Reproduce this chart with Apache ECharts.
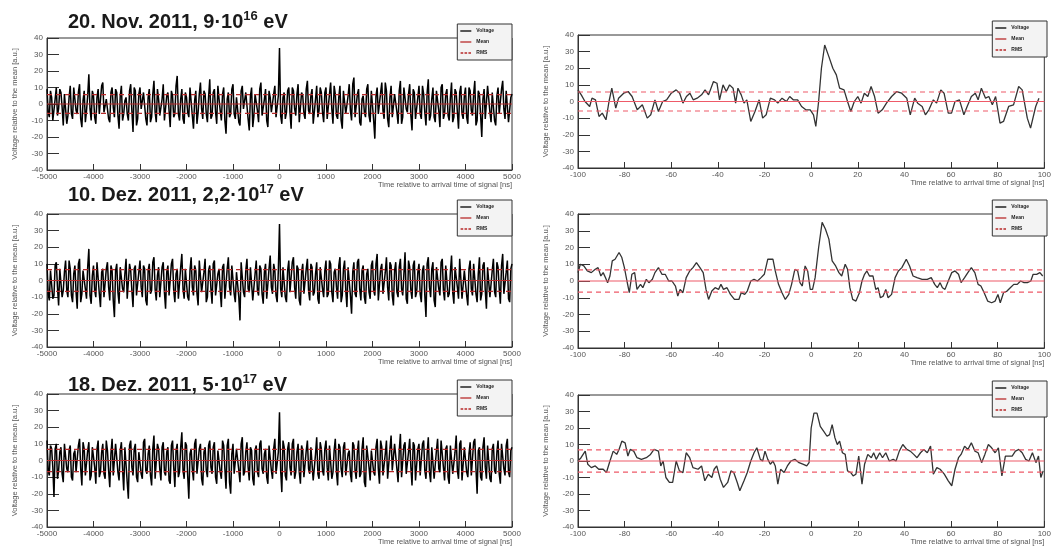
<!DOCTYPE html>
<html><head><meta charset="utf-8">
<script src="https://cdn.jsdelivr.net/npm/echarts@6/dist/echarts.min.js"></script>
<style>html,body{margin:0;padding:0;background:#fff}#c{width:1054px;height:546px}</style>
</head><body><div id="c"></div>
<script>
// ---------- DATA ----------
const titleMain = ['20. Nov. 2011, 9·10', '10. Dez. 2011, 2,2·10', '18. Dez. 2011, 5·10'];
const titleExp = ['16', '17', '17'];
const titleUnit = ' eV';
const legendNames = ['Voltage', 'Mean', 'RMS'];
const xAxisName = 'Time relative to arrival time of signal [ns]';
const yAxisName = 'Voltage relative to the mean [a.u.]';

const fullRange = [-5000, 5000];
const fullTick = 1000;
const zoomRange = [-100, 100];
const zoomTick = 20;
const voltRange = [-40, 40];
const voltTick = 10;

const meanLevels = [0, 0, 0];
const rmsLevels = [5.7, 6.6, 6.7];

// full traces: samples "A" every 50 ns from -5000 ns, samples "B" every 50 ns from -4975 ns
const fullStart = -5000;
const fullStep = 50;
const fullOffset = 25;
const fullNov = [
  9,-8,4,-11,10,-3,7,-13,6,-7,
  11,-9,3,-6,12,-14,8,-4,18,-10,
  5,-12,9,-7,13,-5,2,-11,10,-8,
  7,-15,11,-6,4,-10,12,-17,8,-9,
  10,-4,6,-13,9,-8,14,-11,3,-7,
  12,-9,7,-14,5,-6,17,-10,9,-12,
  4,-8,11,-15,8,-5,13,-9,6,-11,
  15,-7,9,-12,3,-10,10,-18,7,-6,
  12,-9,5,-13,11,-4,8,-16,10,-7,
  6,-11,13,-8,9,-14,4,-6,11,-9,
  34,
  -12,7,-5,10,-15,8,-7,12,-10,5,
  -9,14,-6,9,-13,11,-4,7,-11,10,
  -8,13,-12,6,-9,11,-15,8,-6,12,
  -10,16,-7,9,-13,5,-8,12,-11,7,
  -21,10,-6,13,-9,8,-14,11,-7,6,
  -12,14,-8,9,-5,12,-16,7,-10,11,
  -9,6,-13,15,-7,10,-11,8,-14,12,
  -6,9,-10,13,-8,7,-15,11,-9,10,
  -12,8,-7,14,-10,6,-20,9,-8,12,
  -11,7,-13,10,-6,14,-9,8,-12,6
];
const fullNovB = [
  -5,8,-10,3,-7,9,-2,6,-12,4,
  -6,10,-4,7,-9,2,-11,5,-3,8,
  -8,4,-6,11,-5,3,-9,7,-2,9,
  -7,5,-10,2,-6,8,-4,10,-13,6,
  -3,7,-9,4,-11,6,-5,9,-7,3,
  -10,5,-4,8,-8,11,-6,3,-9,7,
  -5,10,-7,2,-12,6,-3,8,-6,4,
  -9,7,-5,11,-4,6,-10,3,-8,9,
  -6,4,-11,8,-3,7,-9,5,-14,6,
  -4,9,-7,3,-10,8,-5,6,-8,5,
  -7,4,-9,8,-5,10,-3,6,-11,7,
  -6,9,-4,5,-12,3,-8,10,-5,7,
  -9,6,-3,11,-7,4,-10,8,-6,5,
  -4,12,-8,6,-11,3,-5,9,-7,8,
  -10,5,-6,7,-4,13,-9,4,-8,6,
  -5,8,-12,10,-3,6,-7,9,-9,4,
  -6,11,-5,7,-10,3,-8,8,-4,10,
  -9,6,-7,4,-11,9,-5,7,-6,5,
  -8,10,-4,6,-13,8,-7,3,-9,11,
  -5,7,-10,5,-6,9,-3,8,-11,4
];
const fullDez10 = [
  10,-12,6,-9,11,-15,8,-6,12,-10,
  7,-13,9,-17,13,-8,5,-11,19,-14,
  9,-10,12,-16,7,-9,11,-12,6,-22,
  10,-14,8,-7,13,-11,6,-16,9,-8,
  12,-10,7,-15,10,-6,14,-12,8,-9,
  11,-17,9,-8,13,-13,7,-10,16,-11,
  8,-12,14,-9,6,-15,11,-7,13,-10,
  9,-14,12,-8,7,-16,10,-11,14,-9,
  8,-13,6,-24,11,-10,13,-7,9,-12,
  12,-9,7,-14,10,-11,15,-8,6,-13,
  34,
  -10,9,-13,12,-8,14,-11,7,-15,10,
  -9,13,-12,8,-7,11,-14,9,-10,12,
  -8,10,-13,7,-11,14,-9,12,-16,8,
  -20,11,-10,13,-12,9,-14,7,-11,12,
  -9,16,-13,10,-8,14,-12,9,-15,11,
  -10,13,-9,17,-14,8,-11,12,-7,10,
  -13,9,-22,14,-10,11,-16,8,-9,13,
  -12,10,-8,15,-14,9,-11,12,-10,7,
  -15,12,-9,10,-13,14,-8,11,-17,9,
  -11,13,-10,8,-14,16,-9,12,-13,10
];
const fullDez10B = [
  -8,6,-11,9,-4,7,-10,5,-6,12,
  -9,4,-7,10,-13,6,-5,8,-9,3,
  -6,11,-8,5,-10,7,-4,9,-12,6,
  -7,8,-5,4,-11,10,-6,7,-9,5,
  -4,9,-12,6,-8,11,-5,3,-10,8,
  -7,5,-9,10,-6,4,-11,8,-5,7,
  -10,6,-4,9,-8,12,-7,5,-13,6,
  -5,10,-9,4,-6,8,-11,7,-4,9,
  -8,5,-10,11,-7,6,-5,8,-12,4,
  -6,9,-8,5,-11,7,-4,10,-9,6,
  -5,8,-10,6,-7,11,-4,9,-12,5,
  -8,7,-6,10,-9,4,-11,8,-5,6,
  -10,12,-7,5,-4,9,-13,7,-6,8,
  -9,5,-8,11,-5,6,-10,4,-7,9,
  -6,10,-12,7,-8,5,-4,11,-9,6,
  -7,8,-5,4,-11,12,-6,9,-10,5,
  -8,6,-9,10,-4,7,-12,8,-5,11,
  -6,9,-10,5,-7,8,-4,13,-11,6,
  -9,7,-5,10,-8,4,-12,9,-6,8,
  -10,6,-7,11,-5,9,-8,5,-11,7
];
const fullDez18 = [
  12,-9,7,-22,10,-6,8,-13,11,-7,
  9,-12,6,-8,13,-15,7,-10,11,-9,
  8,-14,12,-7,10,-11,6,-16,13,-8,
  9,-12,11,-18,7,-23,12,-9,10,-13,
  6,-11,13,-8,9,-15,15,-10,7,-12,
  11,-9,8,-14,12,-16,10,-7,17,-11,
  9,-23,7,-12,13,-9,10,-15,8,-10,
  12,-8,11,-14,6,-11,9,-17,13,-20,
  10,-9,8,-13,14,-7,11,-12,6,-15,
  9,-10,12,-8,7,-14,10,-11,13,-9,
  29,
  -19,8,-12,11,-9,13,-7,10,-14,6,
  -10,12,-8,9,-13,14,-11,7,-9,12,
  -12,10,-7,13,-15,8,-10,11,-9,6,
  -13,9,-11,12,-8,14,-16,10,-12,7,
  -9,13,-14,8,-10,12,-11,15,-7,9,
  -13,16,-10,11,-8,13,-15,9,-12,10,
  -9,12,-11,14,-13,8,-10,13,-7,11,
  -12,9,-14,10,-8,15,-11,12,-13,7,
  -10,11,-9,13,-20,8,-12,14,-11,9,
  -13,10,-8,12,-14,11,-9,13,-10,8
];
const fullDez18B = [
  -6,9,-4,7,-11,5,-8,10,-5,6,
  -10,4,-7,9,-5,11,-9,6,-12,8,
  -4,7,-10,5,-8,12,-6,4,-9,10,
  -7,6,-5,8,-13,9,-4,7,-10,5,
  -8,11,-6,4,-9,7,-11,10,-5,8,
  -7,5,-12,9,-4,6,-10,8,-6,11,
  -9,4,-5,10,-8,7,-11,5,-6,9,
  -4,8,-10,6,-7,12,-5,9,-13,4,
  -8,7,-6,10,-9,5,-4,8,-11,6,
  -7,10,-5,4,-10,9,-6,7,-8,5,
  -6,12,-9,7,-4,10,-11,5,-7,9,
  -10,6,-5,8,-12,4,-8,11,-6,7,
  -4,9,-11,6,-7,10,-5,8,-9,4,
  -8,11,-6,5,-10,7,-13,9,-4,6,
  -7,8,-5,12,-9,4,-11,7,-6,10,
  -5,6,-10,9,-8,5,-4,11,-12,7,
  -9,10,-6,4,-7,8,-11,6,-5,12,
  -4,7,-10,9,-8,5,-6,10,-12,8,
  -7,4,-9,11,-5,6,-10,8,-4,9,
  -11,7,-6,5,-8,10,-5,9,-7,6
];

// zoomed traces (time ns, voltage a.u.)
const zoomNovT = [
  -100,-98.6,-97,-95,-94,-92.5,-91,-89.6,-88,-86.7,
  -85.5,-83.8,-82.6,-80.4,-78.5,-76.8,-74.6,-72.4,-70.3,-68.8,
  -67,-65.5,-63.7,-62,-60,-57.9,-56.4,-55,-53.5,-52,
  -50.6,-48.9,-47,-45.5,-44,-41.9,-40.4,-39.3,-37.8,-36.4,
  -35,-33.5,-32.4,-31.4,-30,-28.8,-27.6,-25.9,-24.1,-22.3,
  -20.8,-19.3,-17.5,-15.7,-14.3,-12.5,-10.6,-9.2,-7.7,-5.8,
  -4.1,-2.3,-0.4,1,2,3.2,4.4,5.8,7.6,9.3,
  10.8,12.2,14.1,15.6,17,18.5,20,21.4,22.8,24.3,
  25.7,27.2,28.7,30.5,32.3,34.5,36.7,38.8,41,42.5,
  44.4,45.7,47.6,49,50.5,52.4,53.8,55.6,57,58.8,
  60.2,61.7,63.6,65.5,66.9,68.7,70.4,71.6,73,74.8,
  76.2,77.7,79.1,81,82.5,84.7,86.8,89,90.5,92.7,
  94.1,96.3,97.7
];
const zoomNovV = [
  7,4,0,-3,2,1,-9,-7,-11,0,
  8,-4,2,5,6,3,-5,-2,-10,-8,
  1,-6,0,1,5,7,5,-1,3,5,
  1,2,4,7,4,12,11,1,10,6,
  10,8,-1,8,4,-1,1,-12,-6,1,
  -10,-8,2,1,-1,2,0,3,1,1,
  -3,-5,-5,-8,-15,0,20,34,27,20,
  16,8,7,0,-6,0,3,-1,5,3,
  9,3,-7,-5,-1,3,6,5,2,-8,
  2,-1,-3,-8,-5,1,-1,7,5,-7,
  -7,0,1,-8,-3,3,5,1,8,2,
  3,-2,3,-13,-12,-3,-2,9,7,-10,
  -16,-3,2
];
const zoomDez10T = [
  -100,-99,-97.5,-96,-94.3,-92.6,-91.4,-90.2,-89.2,-88.2,
  -87.3,-86.3,-85.3,-84.1,-82.4,-81.2,-80.1,-79,-78,-76.9,
  -75.7,-74.7,-73.2,-72.2,-70.7,-69.6,-68.1,-67,-65.5,-64,
  -62.6,-61.1,-59.7,-58.2,-57.2,-56.2,-55,-53.6,-52.1,-50.7,
  -49.2,-47.7,-46.3,-45.1,-44,-42.6,-41.2,-39.7,-38.7,-37.6,
  -36.1,-34.6,-32.9,-31,-30,-28.5,-27.4,-25.9,-24.5,-23,
  -21.5,-20.1,-18.6,-16.4,-15.4,-14,-12.5,-11.1,-9.6,-8.4,
  -7,-5.8,-4.8,-3.8,-2.6,-1.5,-0.4,0.6,1.7,3.2,
  4.7,6.1,7.6,9,10.5,11.9,13.1,14.6,15.6,16.6,
  17.8,19.2,20.7,21.8,22.9,23.9,25,26.5,27.7,28.7,
  29.7,30.9,32,33,34.5,36,37.4,38.9,40.8,42.2,
  43.7,45.4,47.6,49.8,51.5,53,54.1,55.3,56.3,57.4,
  58.8,60.3,61.7,63.2,64.3,65.8,67.2,68.7,70.2,71.6,
  72.8,74.2,75.7,77.4,78.9,80.1,81.1,82.5,84,85.4,
  86.9,88.4,89.8,91.3,92.7,94.2,95.2,96.7,98.1,99.3
];
const zoomDez10V = [
  5,10,9,6,5,7,8,3,5,2,
  -1,3,12,13,17,14,8,0,-7,4,
  5,-5,-2,-4,1,-1,1,5,8,4,
  4,0,0,-3,-9,-5,-7,2,6,8,
  11,8,5,-5,-11,-6,-4,-5,-2,-5,
  -4,-8,-11,-11,-7,-8,-6,0,1,0,
  2,4,13,13,6,-2,-7,-11,-8,-2,
  7,6,-1,-3,9,6,-5,-5,2,20,
  35,31,25,12,9,5,3,10,7,-4,
  -11,-12,-7,0,4,6,3,3,-5,-4,
  -10,-9,-5,-10,-8,2,6,8,13,9,
  3,2,1,1,2,-2,-4,-1,-4,-5,
  0,5,6,4,-1,2,5,8,5,-2,
  -3,-7,-12,-13,-12,-8,-13,-7,-6,-4,
  -2,-2,0,-1,-1,0,4,4,5,3
];
const zoomDez18T = [
  -100,-98.7,-96.9,-95.8,-94.3,-92.6,-91.1,-89.2,-87.8,-86.3,
  -84.9,-83.4,-82.4,-81.2,-79.8,-78.6,-77.6,-76.1,-74.7,-72.8,
  -70.7,-68.9,-67.4,-65.5,-64.5,-63.5,-62.3,-60.8,-59.4,-57.9,
  -56.5,-55,-53.6,-52.1,-50.7,-48.5,-47,-45.6,-44.1,-42.6,
  -41.6,-40.5,-39,-37.6,-35.8,-34.4,-33.2,-31.7,-30.6,-28.8,
  -27.4,-25.9,-24.5,-23.3,-21.8,-20.8,-19.8,-18.6,-17.5,-16.4,
  -15.4,-14.3,-13.1,-11.6,-10.2,-8.7,-7,-5.2,-3.3,-1.9,
  -0.9,0,1.2,2.5,3.9,5.4,6.8,7.9,9,10.2,
  11.2,12.2,13.4,14.6,15.6,17,18,19.2,20.4,21.8,
  22.9,24.3,25.8,26.8,27.9,29.4,30.6,32,33.5,35.2,
  36.4,37.8,39.3,41,42.5,44,45.4,46.9,48.3,49.8,
  51.2,52.4,53.9,55.3,57.1,58.8,60.3,61.7,63.2,64.3,
  65.8,67.2,68.7,70.2,71.6,73.1,74.5,76,77.4,78.9,
  80.3,81.8,83.3,84.7,86.2,87.6,89.1,90.5,92,93.4,
  94.9,96.4,97.5,98.5,99.5
];
const zoomDez18V = [
  0,2,6,-2,-4,-3,-5,-5,-7,0,
  6,4,7,12,11,3,7,6,2,1,
  2,4,7,6,-3,0,-10,-13,-13,0,
  -6,-7,5,2,-4,-5,-3,-12,-8,-10,
  -5,-3,-11,-16,-13,-6,-7,-13,-18,-12,
  -7,0,5,8,1,0,6,1,-2,0,
  -3,-14,-5,-7,-3,0,1,-1,-2,-3,
  -1,20,29,29,21,18,15,16,22,14,
  10,12,5,4,-6,-7,-9,-8,3,-14,
  -2,4,2,5,1,5,2,5,0,1,
  0,6,10,7,6,4,2,5,7,5,
  9,-8,-4,-5,-8,-12,-15,-5,2,4,
  9,7,11,6,5,-1,4,10,8,5,
  8,-9,3,3,3,6,7,5,1,0,
  5,-1,3,-10,-6
];

// ---------- CHART ----------
const FONT = '"Liberation Sans", Arial, Helvetica, sans-serif';
const RED_L = '#b82a2a';
const RED_R = '#ee5a68';

const fullSets = [[fullNov, fullNovB], [fullDez10, fullDez10B], [fullDez18, fullDez18B]];
const zoomSets = [[zoomNovT, zoomNovV], [zoomDez10T, zoomDez10V], [zoomDez18T, zoomDez18V]];

const leftBoxes = [
  {left: 47, top: 38, width: 465, height: 132},
  {left: 47, top: 214, width: 465, height: 133},
  {left: 47, top: 394, width: 465, height: 133}
];
const rightBoxes = [
  {left: 578, top: 35, width: 469, height: 133},
  {left: 578, top: 214, width: 469, height: 134},
  {left: 578, top: 395, width: 469, height: 133}
];
const titleTops = [5, 178, 368];

const grid = [], xAxis = [], yAxis = [], series = [], legend = [], title = [];
const plainNum = v => String(v);

function addPanel(box, xr, xt, pairs, mean, rms, red, vColor, vWidth) {
  const gi = grid.length;
  grid.push(Object.assign({show: true, borderColor: '#333', borderWidth: 1, backgroundColor: 'transparent'}, box));
  xAxis.push({
    gridIndex: gi, type: 'value', min: xr[0], max: xr[1], interval: xt,
    axisLine: {show: true, onZero: false, lineStyle: {color: '#333', width: 1}},
    axisTick: {show: true, inside: true, length: 6, lineStyle: {color: '#333'}},
    axisLabel: {fontSize: 8, color: '#555', margin: 3, fontFamily: FONT, formatter: plainNum},
    splitLine: {show: false},
    name: xAxisName, nameLocation: 'end', nameGap: 0,
    nameTextStyle: {align: 'right', verticalAlign: 'top', padding: [11, 0, 0, 0], fontSize: 7.5, color: '#555', fontFamily: FONT}
  });
  yAxis.push({
    gridIndex: gi, type: 'value', min: voltRange[0], max: voltRange[1], interval: voltTick,
    axisLine: {show: true, onZero: false, lineStyle: {color: '#333', width: 1}},
    axisTick: {show: true, inside: true, length: 12, lineStyle: {color: '#333'}},
    axisLabel: {fontSize: 8, color: '#555', margin: 4, fontFamily: FONT, formatter: plainNum},
    splitLine: {show: false},
    name: yAxisName, nameLocation: 'middle', nameGap: 28,
    nameTextStyle: {fontSize: 7.5, color: '#555', fontFamily: FONT}
  });
  const common = {type: 'line', xAxisIndex: gi, yAxisIndex: gi, symbol: 'none', showSymbol: false, silent: true, animation: false, sampling: null};
  series.push(Object.assign({}, common, {name: legendNames[0], data: pairs, lineStyle: {color: vColor, width: vWidth, join: 'bevel'}, itemStyle: {color: vColor}, z: 2}));
  series.push(Object.assign({}, common, {name: legendNames[1], data: [[xr[0], mean], [xr[1], mean]], lineStyle: {color: red, width: 1.2}, itemStyle: {color: red}, z: 3}));
  series.push(Object.assign({}, common, {name: legendNames[2], data: [[xr[0], mean + rms], [xr[1], mean + rms]], lineStyle: {color: red, width: 1.2, type: [5, 4]}, itemStyle: {color: red}, z: 3}));
  series.push(Object.assign({}, common, {name: legendNames[2], data: [[xr[0], mean - rms], [xr[1], mean - rms]], lineStyle: {color: red, width: 1.2, type: [5, 4]}, itemStyle: {color: red}, z: 3}));
  legend.push({
    orient: 'vertical', right: 1054 - (box.left + box.width), top: box.top - 14,
    data: [
      {name: legendNames[0], icon: 'rect'},
      {name: legendNames[1], icon: 'rect'},
      {name: legendNames[2], icon: 'path://M0 0h4v2h-4zM6 0h4v2h-4zM12 0h4v2h-4z'}
    ],
    itemWidth: 11, itemHeight: 1.3, itemGap: 5,
    textStyle: {fontSize: 5, color: '#222', fontWeight: 'bold', fontFamily: FONT, lineHeight: 6},
    padding: [4, 18, 4, 3], backgroundColor: '#f3f3f3', borderColor: '#333', borderWidth: 1, borderRadius: 0,
    selectedMode: false
  });
}

for (let r = 0; r < 3; r++) {
  const a = fullSets[r][0], b = fullSets[r][1];
  const pairs = [];
  a.forEach((v, i) => {
    pairs.push([fullStart + i * fullStep, v]);
    if (i < b.length) pairs.push([fullStart + fullOffset + i * fullStep, b[i]]);
  });
  addPanel(leftBoxes[r], fullRange, fullTick, pairs, meanLevels[r], rmsLevels[r], RED_L, '#000', 1.5);
  const zt = zoomSets[r][0], zv = zoomSets[r][1];
  const zp = zt.map((t, i) => [t, zv[i]]);
  addPanel(rightBoxes[r], zoomRange, zoomTick, zp, meanLevels[r], rmsLevels[r], RED_R, '#333', 1.3);
  title.push({
    left: 63, top: titleTops[r],
    text: '{a|' + titleMain[r] + '}{s|' + titleExp[r] + '}{a|' + titleUnit + '}',
    textStyle: {rich: {
      a: {fontSize: 20, fontWeight: 'bold', color: '#1a1a1a', fontFamily: FONT, lineHeight: 24},
      s: {fontSize: 13, fontWeight: 'bold', color: '#1a1a1a', fontFamily: FONT, lineHeight: 14, verticalAlign: 'top'}
    }}
  });
}

const chart = echarts.init(document.getElementById('c'), null, {renderer: 'canvas'});
chart.setOption({backgroundColor: '#fff', animation: false, title, grid, xAxis, yAxis, series, legend});
</script></body></html>
